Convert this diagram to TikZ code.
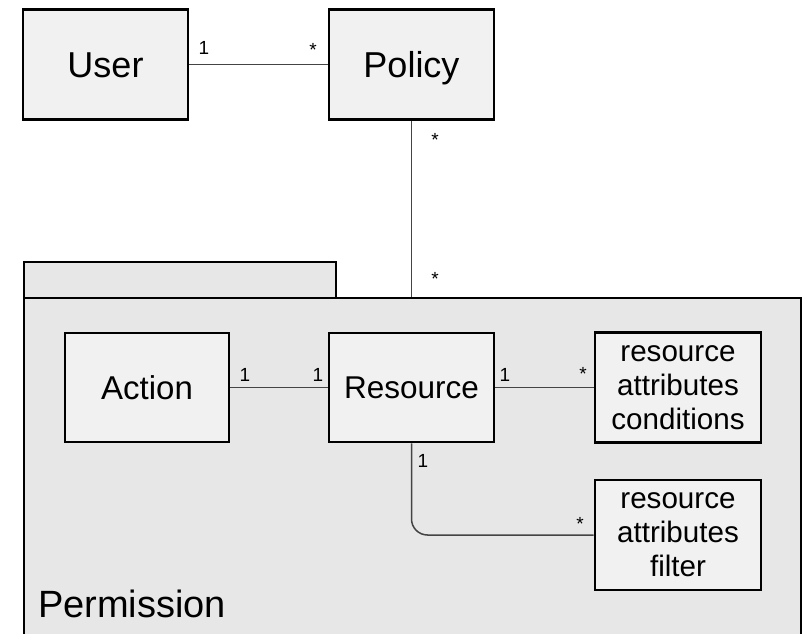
\documentclass[tikz,border=0pt]{standalone}
\usepackage{fontspec}
\setmainfont{Liberation Sans}
\begin{document}
\begin{tikzpicture}[x=1pt,y=-1pt,
  box/.style={draw=black, line width=2.6pt, fill=boxfill, rectangle, inner sep=0pt, align=center},
  conn/.style={draw=linegray, line width=1.5pt},
  mult/.style={font=\fontsize{19}{22}\selectfont, inner sep=0pt},
  pkgline/.style={draw=black, line width=2.4pt, fill=pkgfill}]
\definecolor{boxfill}{HTML}{F1F1F1}
\definecolor{pkgfill}{HTML}{E7E7E7}
\definecolor{linegray}{HTML}{444444}
\useasboundingbox (0,0) rectangle (807,634);
% package
\node[pkgline, rectangle, inner sep=0pt, anchor=north west, minimum width=312pt, minimum height=36pt] (tab) at (23,261) {};
\node[pkgline, rectangle, inner sep=0pt, anchor=north west, minimum width=777pt, minimum height=380pt] (pkg) at (23,297) {};
\node[anchor=base west, inner sep=0pt, font=\fontsize{38}{42}\selectfont] (pname) at (38,617) {Permission};
% top boxes
\node[box, text height=25.8pt, text depth=0pt, minimum width=165pt, minimum height=110pt, font=\fontsize{36}{40}\selectfont] (user) at (105.5,64.5) {User};
\node[box, text height=25.8pt, text depth=0pt, minimum width=165pt, minimum height=110pt, font=\fontsize{36}{40}\selectfont] (policy) at (411.5,64.5) {Policy};
% inner boxes
\node[box, text height=23.6pt, text depth=0pt, minimum width=164pt, minimum height=109pt, font=\fontsize{33}{38}\selectfont] (action) at (147,387.5) {Action};
\node[box, text height=22.6pt, text depth=0pt, minimum width=165pt, minimum height=109pt, font=\fontsize{31.5}{36}\selectfont] (resource) at (411.5,387.5) {Resource};
\node[box, minimum width=166pt, minimum height=110pt, font=\fontsize{29.6}{34}\selectfont] (cond) at (678,387.5) {resource\\attributes\\conditions};
\node[box, minimum width=166pt, minimum height=110pt, font=\fontsize{29.6}{34}\selectfont] (filter) at (678,535) {resource\\attributes\\filter};
% connectors
\coordinate (pkgtop) at (policy.south |- pkg.north);
\draw[conn] (user.east) -- (policy.west);
\draw[conn] (policy.south) -- (pkgtop);
\draw[conn] (action.east) -- (resource.west);
\draw[conn] (resource.east) -- (cond.west);
\draw[conn, rounded corners=16pt] (resource.south) |- (filter.west);
% multiplicities
\node[mult] (m1) at (204,48) {1};
\node[mult] (m2) at (313,50) {*};
\node[mult] (m3) at (435,140) {*};
\node[mult] (m4) at (435,279) {*};
\node[mult] (m5) at (245,375) {1};
\node[mult] (m6) at (318,375) {1};
\node[mult] (m7) at (505,375) {1};
\node[mult] (m8) at (583,374) {*};
\node[mult] (m9) at (423,461) {1};
\node[mult] (m10) at (580,524) {*};
\end{tikzpicture}
\end{document}
